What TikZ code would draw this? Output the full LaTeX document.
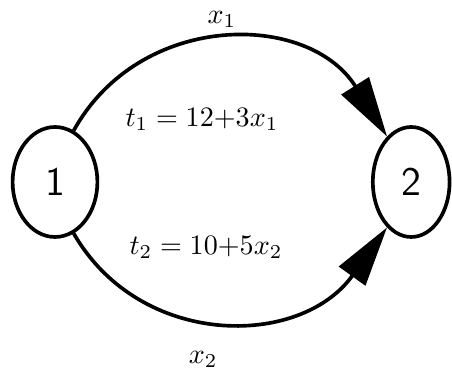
\documentclass[tikz,border=0pt]{standalone}
\usepackage{amsmath,amssymb}
\usepackage{tikz}
\usetikzlibrary{arrows.meta,shapes.geometric}

\begin{document}
\begin{tikzpicture}[
  >={Triangle[length=7.5mm, width=4mm]},
  font=\normalsize,
  vertex/.style={draw, ellipse, line width=1.3pt, inner sep=0pt, minimum width=10.6mm, minimum height=13.75mm, font=\Large\sffamily},
  flow/.style={->, line width=1.3pt},
  lbl/.style={inner sep=1pt}
]
\useasboundingbox (0,0) rectangle (5.65,4.7375);

\node[vertex] (v1) at (0.6875,2.4625) {1};
\node[vertex, minimum width=9.6mm] (v2) at (5.14,2.4625) {2};

\draw[flow] (v1.70) .. controls (1.75,4.6) and (3.85,4.6) .. (v2.118);
\draw[flow] (v1.-70) .. controls (1.75,0.38) and (3.75,0.38) .. (v2.-118);

\node[lbl] (x1) at (2.775,4.49) {$x_1$};
\node[lbl] (t1) at (2.525,3.24) {$t_1 = 12{+}3x_1$};
\node[lbl] (t2) at (2.575,1.64) {$t_2 = 10{+}5x_2$};
\node[lbl] (x2) at (2.54,0.24) {$x_2$};
\end{tikzpicture}
\end{document}
